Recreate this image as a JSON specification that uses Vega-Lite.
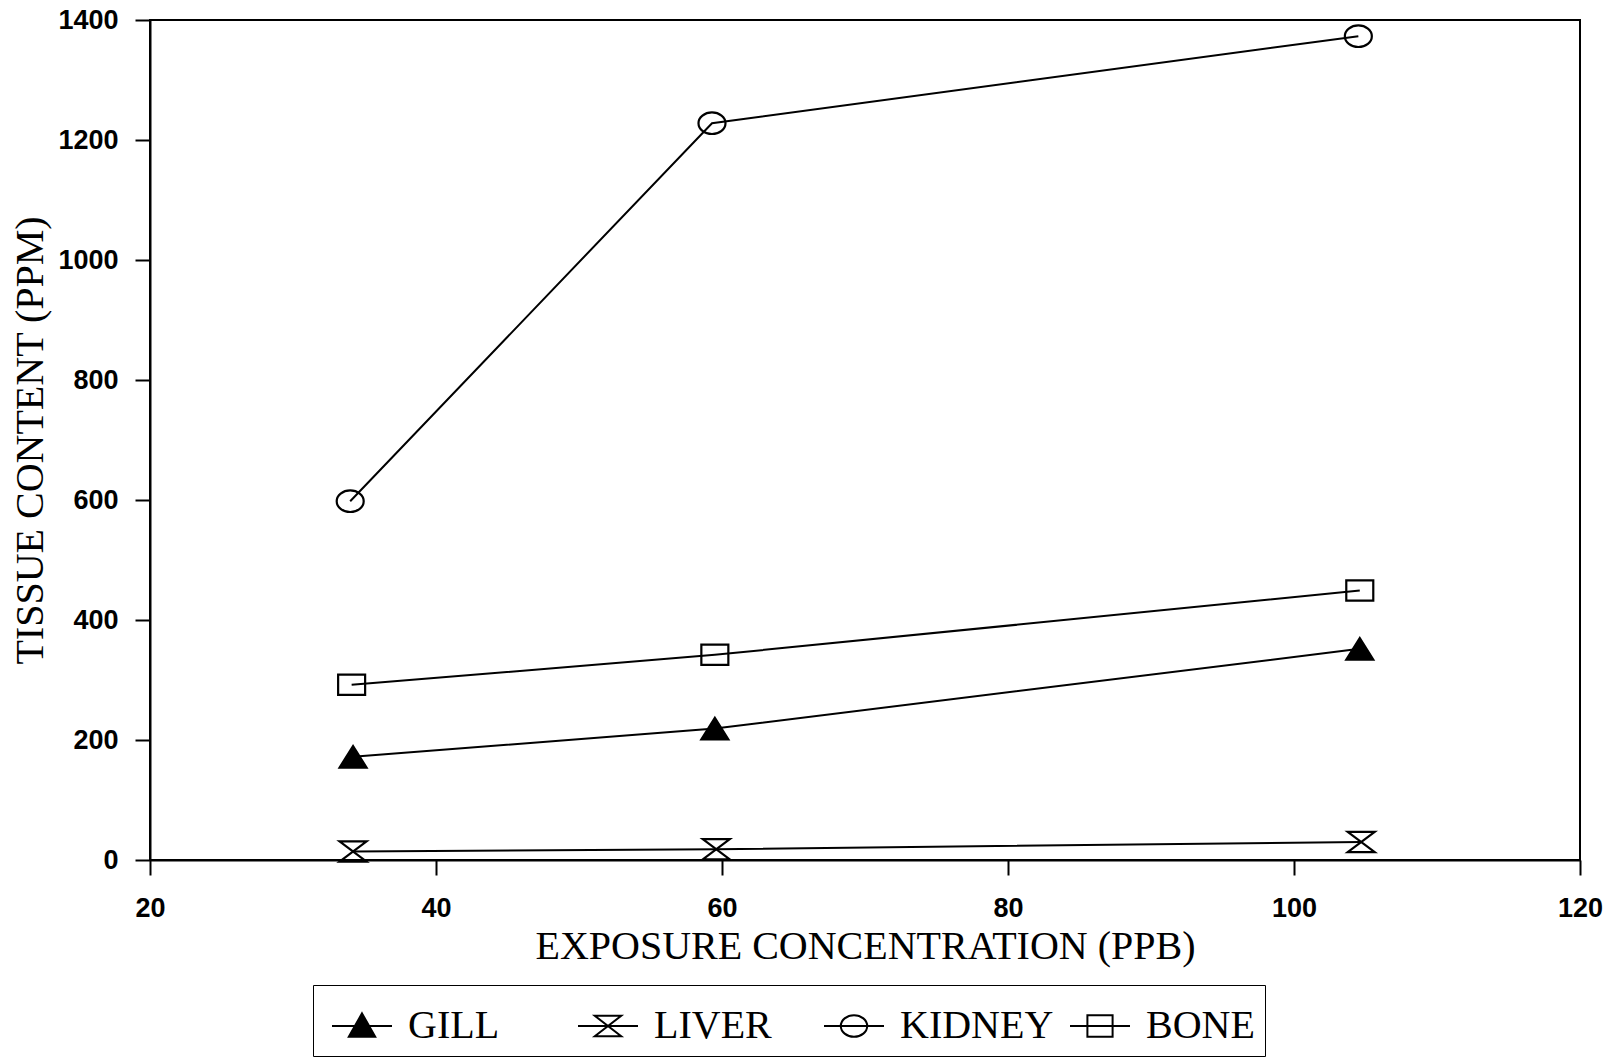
{
  "$schema": "https://vega.github.io/schema/vega-lite/v6.json",
  "width": 1430,
  "height": 840,
  "autosize": {"type": "none"},
  "padding": {"left": 150, "top": 20, "right": 27, "bottom": 198},
  "background": "white",
  "config": {
    "view": {"stroke": "black", "strokeWidth": 2},
    "axis": {
      "grid": false,
      "domainColor": "black",
      "domainWidth": 2,
      "tickColor": "black",
      "tickWidth": 2,
      "tickSize": 15,
      "labelFont": "Liberation Sans",
      "labelFontWeight": "bold",
      "labelFontSize": 27,
      "labelColor": "black",
      "titleFont": "Liberation Serif",
      "titleFontWeight": "normal",
      "titleFontSize": 40,
      "titleColor": "black"
    },
    "legend": {
      "orient": "none",
      "legendX": 163,
      "legendY": 965,
      "direction": "horizontal",
      "columns": 4,
      "gridAlign": "all",
      "columnPadding": 7,
      "padding": 10,
      "symbolOffset": 8,
      "labelOffset": 15,
      "symbolSize": 3600,
      "symbolStrokeWidth": 2,
      "symbolOpacity": 1,
      "labelFont": "Liberation Serif",
      "labelFontSize": 40,
      "labelColor": "black",
      "labelLimit": 400,
      "strokeColor": "black"
    }
  },
  "data": {
    "values": [
      {"series": "GILL", "conc": 34.2, "ppm": 172},
      {"series": "GILL", "conc": 59.5, "ppm": 219},
      {"series": "GILL", "conc": 104.6, "ppm": 352},
      {"series": "LIVER", "conc": 34.2, "ppm": 14},
      {"series": "LIVER", "conc": 59.6, "ppm": 18},
      {"series": "LIVER", "conc": 104.7, "ppm": 30},
      {"series": "KIDNEY", "conc": 34.0, "ppm": 598},
      {"series": "KIDNEY", "conc": 59.3, "ppm": 1228},
      {"series": "KIDNEY", "conc": 104.5, "ppm": 1373},
      {"series": "BONE", "conc": 34.1, "ppm": 292},
      {"series": "BONE", "conc": 59.5, "ppm": 342},
      {"series": "BONE", "conc": 104.6, "ppm": 449}
    ]
  },
  "encoding": {
    "x": {
      "field": "conc",
      "type": "quantitative",
      "scale": {"domain": [20, 120], "nice": false, "zero": false},
      "axis": {
        "values": [20, 40, 60, 80, 100, 120],
        "format": "d",
        "title": "EXPOSURE CONCENTRATION (PPB)",
        "labelPadding": 20,
        "labelFlush": false,
        "titleBaseline": "alphabetic",
        "titleY": 98
      }
    },
    "y": {
      "field": "ppm",
      "type": "quantitative",
      "scale": {"domain": [0, 1400], "nice": false},
      "axis": {
        "values": [0, 200, 400, 600, 800, 1000, 1200, 1400],
        "format": "d",
        "title": "TISSUE CONTENT (PPM)",
        "labelPadding": 17,
        "labelFlush": false,
        "titleBaseline": "alphabetic",
        "titleX": -108
      }
    }
  },
  "layer": [
    {
      "mark": {"type": "line", "color": "black", "strokeWidth": 2},
      "encoding": {"detail": {"field": "series", "type": "nominal"}}
    },
    {
      "mark": {"type": "point", "filled": true, "size": 729, "stroke": "black", "strokeWidth": 2.2, "opacity": 1},
      "encoding": {
        "fill": {"condition": {"test": "datum.series === 'GILL'", "value": "black"}, "value": "transparent"},
        "shape": {
          "field": "series",
          "type": "nominal",
          "scale": {
            "domain": ["GILL", "LIVER", "KIDNEY", "BONE"],
            "range": [
              "M0,-0.8L1,0.8L-1,0.8Z",
              "M-1,-0.75H1L-1,0.75H1Z",
              "M1,0A1,0.8 0 1,1 -1,0A1,0.8 0 1,1 1,0",
              "M-1,-0.75H1V0.75H-1Z"
            ]
          },
          "legend": null
        }
      }
    },
    {
      "mark": {"type": "point", "filled": true, "strokeWidth": 2, "opacity": 0},
      "encoding": {
        "fill": {
          "field": "series",
          "type": "nominal",
          "scale": {
            "domain": ["GILL", "LIVER", "KIDNEY", "BONE"],
            "range": ["black", "transparent", "transparent", "transparent"]
          },
          "legend": {"title": null}
        },
        "stroke": {
          "field": "series",
          "type": "nominal",
          "scale": {
            "domain": ["GILL", "LIVER", "KIDNEY", "BONE"],
            "range": ["black", "black", "black", "black"]
          },
          "legend": {"title": null}
        },
        "shape": {
          "field": "series",
          "type": "nominal",
          "scale": {
            "domain": ["GILL", "LIVER", "KIDNEY", "BONE"],
            "range": [
              "M-1,0H1M0,-0.42L0.44,0.36L-0.44,0.36Z",
              "M-1,0H1M-0.44,-0.34H0.44L-0.44,0.34H0.44Z",
              "M-1,0H1M0.44,0A0.44,0.36 0 1,1 -0.44,0A0.44,0.36 0 1,1 0.44,0",
              "M-1,0H1M-0.42,-0.36H0.42V0.36H-0.42Z"
            ]
          },
          "legend": {"title": null}
        }
      }
    }
  ],
  "resolve": {"scale": {"shape": "independent", "fill": "independent", "stroke": "independent"}}
}
